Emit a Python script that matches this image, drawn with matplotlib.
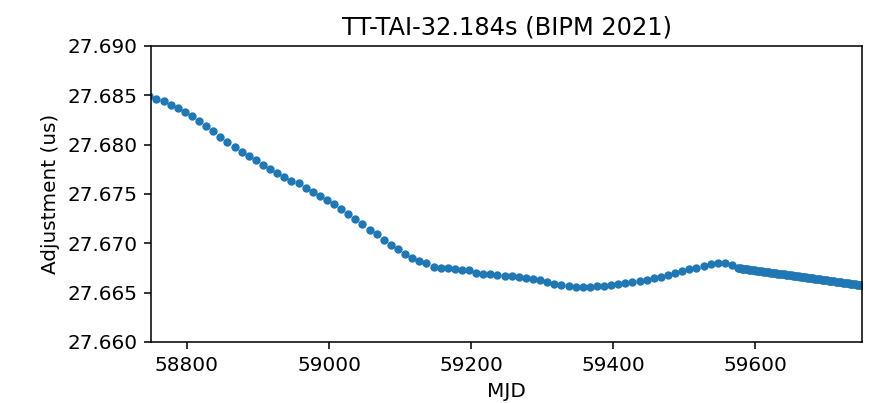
import numpy as np
import matplotlib
matplotlib.use('Agg')
import matplotlib.pyplot as plt
from matplotlib.ticker import FormatStrFormatter

plt.rcParams['font.size'] = 10.3
plt.rcParams['axes.titlesize'] = 12.4

# 10-day BIPM values (MJD, TT-TAI-32.184 s in us)
mjd_10d = np.arange(58747, 59568, 10)
adj_10d = [
    27.6849, 27.6846, 27.6844, 27.6840, 27.6837, 27.6833, 27.6829, 27.6824, 27.6819, 27.6814,
    27.6808, 27.6803, 27.6798, 27.6793, 27.6788, 27.6784, 27.6779, 27.6775, 27.6771, 27.6767,
    27.6763, 27.6761, 27.6756, 27.6752, 27.6748, 27.6744, 27.6740, 27.6735, 27.6730, 27.6725,
    27.6720, 27.6714, 27.6709, 27.6703, 27.6698, 27.6694, 27.6689, 27.6685, 27.6682, 27.6680,
    27.6676, 27.6675, 27.6675, 27.6674, 27.6673, 27.6673, 27.6670, 27.6669, 27.6669, 27.6668,
    27.6667, 27.6667, 27.6666, 27.6665, 27.6664, 27.6663, 27.6661, 27.6659, 27.6658, 27.6657,
    27.6656, 27.6656, 27.6656, 27.6657, 27.6657, 27.6658, 27.6659, 27.6660, 27.6661, 27.6662,
    27.6663, 27.6665, 27.6666, 27.6668, 27.6670, 27.6672, 27.6674, 27.6675, 27.6677, 27.6679,
    27.6680, 27.6680, 27.6678,
]

# extrapolated values after the last BIPM point
mjd_ext = np.arange(59575, 59752, 2)
adj_ext = [
    27.66750, 27.66748, 27.66746, 27.66744, 27.66742, 27.66740, 27.66738, 27.66736, 27.66734, 27.66732,
    27.66730, 27.66728, 27.66726, 27.66724, 27.66722, 27.66720, 27.66718, 27.66716, 27.66714, 27.66712,
    27.66710, 27.66708, 27.66706, 27.66704, 27.66702, 27.66700, 27.66698, 27.66696, 27.66694, 27.66692,
    27.66690, 27.66688, 27.66686, 27.66684, 27.66682, 27.66680, 27.66678, 27.66676, 27.66674, 27.66672,
    27.66670, 27.66668, 27.66666, 27.66664, 27.66662, 27.66660, 27.66658, 27.66656, 27.66654, 27.66652,
    27.66650, 27.66648, 27.66646, 27.66644, 27.66642, 27.66640, 27.66638, 27.66636, 27.66634, 27.66632,
    27.66630, 27.66628, 27.66626, 27.66624, 27.66622, 27.66620, 27.66618, 27.66616, 27.66614, 27.66612,
    27.66610, 27.66608, 27.66606, 27.66604, 27.66602, 27.66600, 27.66598, 27.66596, 27.66594, 27.66592,
    27.66590, 27.66588, 27.66586, 27.66584, 27.66582, 27.66580, 27.66578, 27.66576, 27.66574,
]

mjd = np.concatenate([mjd_10d, mjd_ext])
adj = np.concatenate([adj_10d, adj_ext])

fig, ax = plt.subplots(figsize=(877 / 140, 403 / 140), dpi=140)
fig.subplots_adjust(left=0.1727, right=0.9829, bottom=0.1514, top=0.8859)

ax.plot(mjd, adj, 'o', color='C0', markersize=4.3, markeredgewidth=0)

ax.set_xlim(58750, 59750)
ax.set_ylim(27.660, 27.690)
ax.set_yticks(np.arange(27.660, 27.6901, 0.005))
ax.yaxis.set_major_formatter(FormatStrFormatter('%.3f'))
ax.ticklabel_format(axis='x', useOffset=False)

ax.set_xlabel('MJD')
ax.set_ylabel('Adjustment (us)')
ax.set_title('TT-TAI-32.184s (BIPM 2021)')

plt.savefig('out.png', dpi=140)
